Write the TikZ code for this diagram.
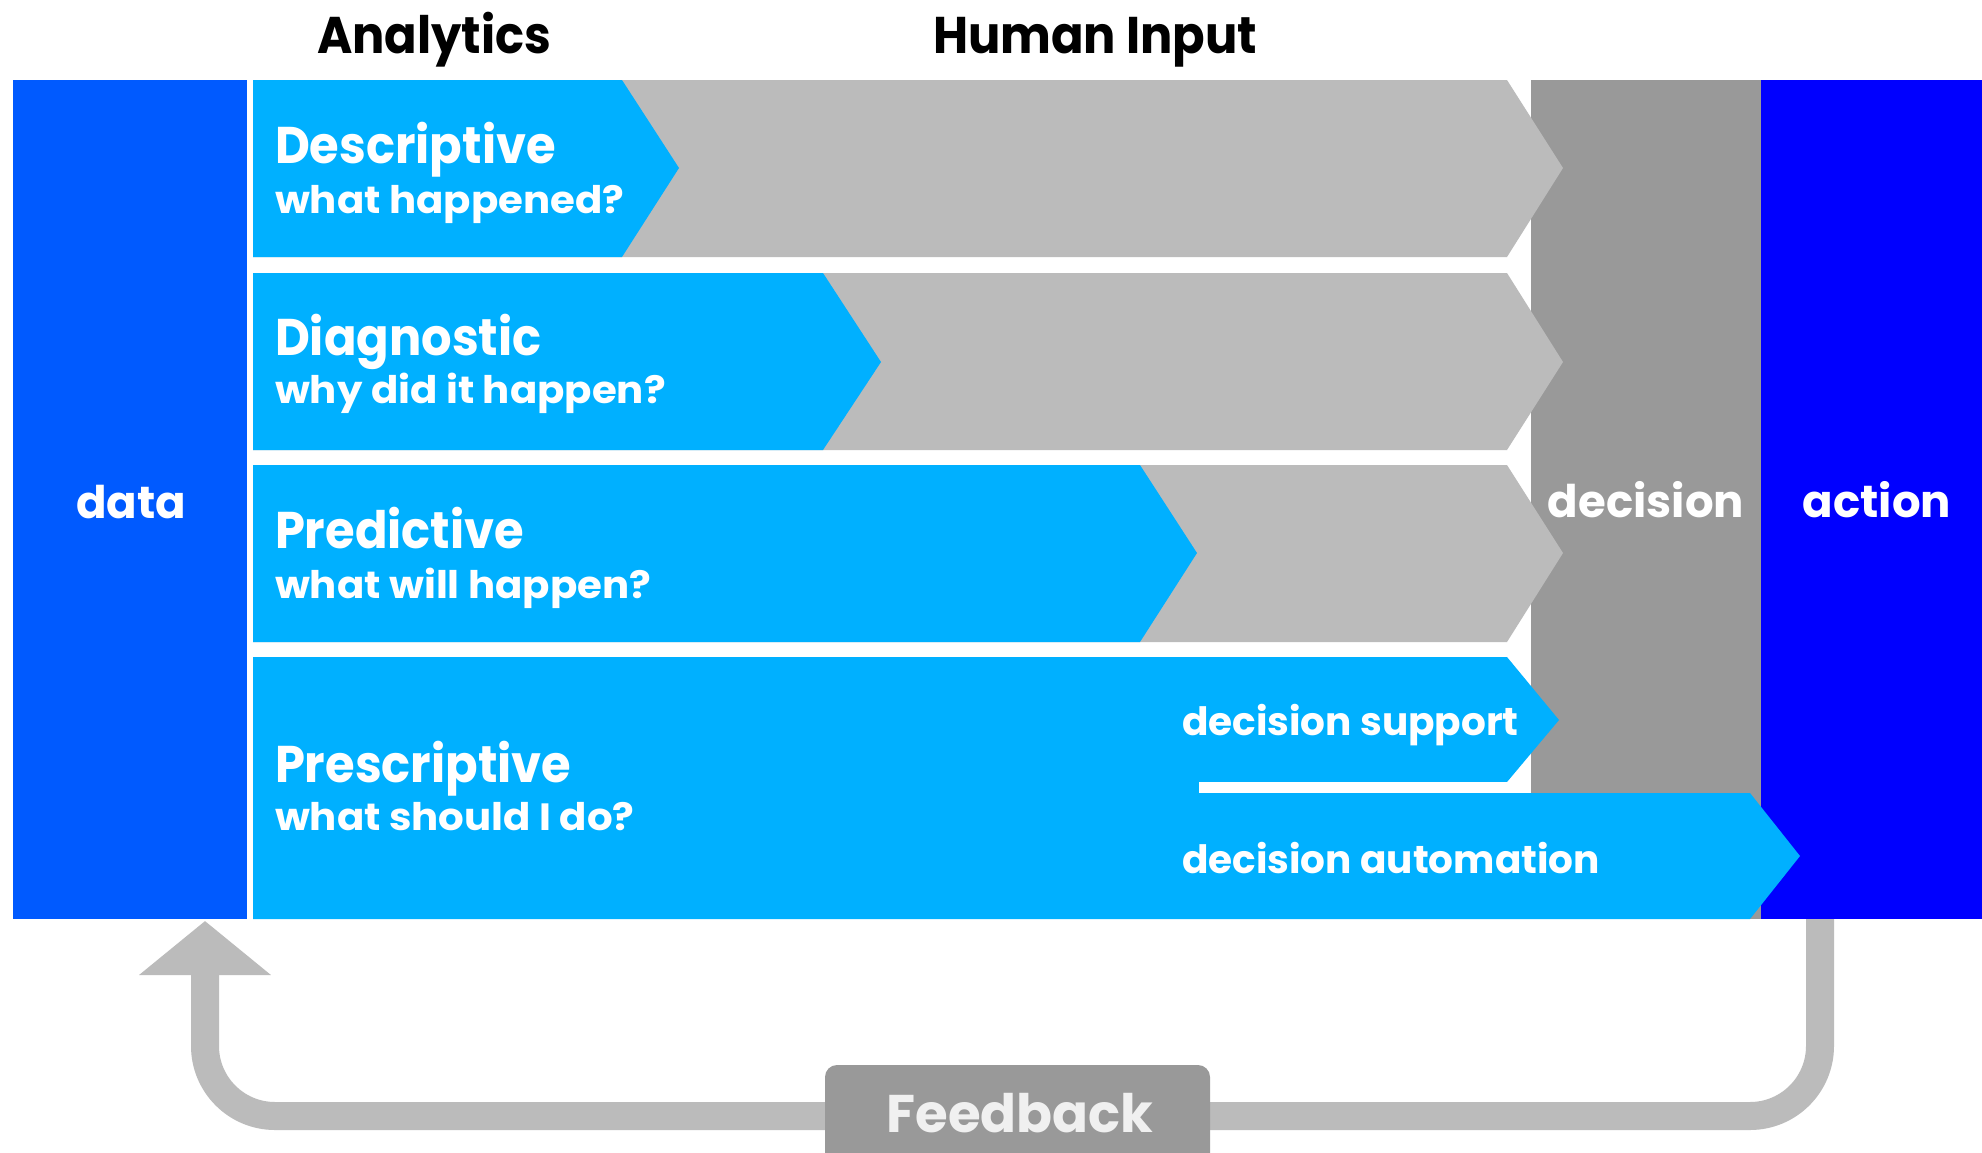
\documentclass[tikz,border=0pt]{standalone}
\usepackage{fontspec}
\setmainfont{Poppins}
\newfontfamily\ttlfont[FakeStretch=0.93]{Poppins}
\newfontfamily\subfont[FakeStretch=1.06]{Poppins}
\usetikzlibrary{arrows.meta}
\definecolor{datablue}{HTML}{005AFF}
\definecolor{bandblue}{HTML}{00B0FF}
\definecolor{lgray}{HTML}{BBBBBB}
\definecolor{dgray}{HTML}{999999}
\definecolor{actblue}{HTML}{0000FF}
\begin{document}
\begin{tikzpicture}[x=1pt,y=-1pt,
  every node/.style={inner sep=0pt, outer sep=0pt},
  colbox/.style={draw=none, minimum width=#1, anchor=north west},
  hdr/.style={font=\ttlfont\bfseries\fontsize{51.6}{56}\selectfont, text=black, anchor=base west},
  ttl/.style={font=\ttlfont\bfseries\fontsize{51.6}{56}\selectfont, text=white, anchor=base west},
  sub/.style={font=\subfont\bfseries\fontsize{38}{42}\selectfont, text=white, anchor=base west},
  big/.style={font=\bfseries\fontsize{45}{50}\selectfont, text=white, anchor=base},
  dec/.style={font=\bfseries\fontsize{39}{44}\selectfont, text=white, anchor=base west},
  fbline/.style={draw=lgray, line width=28pt, rounded corners=70pt, -{Triangle[length=54pt,width=129pt]}},
  fbbox/.style={fill=dgray, rounded corners=12pt, minimum width=385pt, minimum height=100pt}]
\useasboundingbox[fill=white] (0,0) rectangle (1982,1152);

% columns
\node[colbox=234pt, minimum height=839pt, fill=datablue] (data) at (13,80) {};
\node[colbox=230pt, minimum height=839pt, fill=dgray] (decision) at (1531,80) {};
\node[colbox=221pt, minimum height=839pt, fill=actblue] (action) at (1761,80) {};

% band 1
\fill[lgray] (253,80) -- (1507,80) -- (1563,168) -- (1507,257) -- (253,257) -- cycle;
\fill[bandblue] (253,80) -- (622,80) -- (679,168) -- (622,257) -- (253,257) -- cycle;
% band 2
\fill[lgray] (253,273) -- (1507,273) -- (1563,362) -- (1507,450) -- (253,450) -- cycle;
\fill[bandblue] (253,273) -- (823,273) -- (881,362) -- (823,450) -- (253,450) -- cycle;
% band 3
\fill[lgray] (253,465) -- (1507,465) -- (1563,553) -- (1507,642) -- (253,642) -- cycle;
\fill[bandblue] (253,465) -- (1140,465) -- (1197,553) -- (1140,642) -- (253,642) -- cycle;
% band 4
\fill[bandblue] (253,657) -- (1507,657) -- (1559,720) -- (1507,782) -- (1199,782)
  -- (1199,793) -- (1750,793) -- (1800,856) -- (1750,919) -- (253,919) -- cycle;
\fill[white] (1199,782) rectangle (1531,793);

% headers
\node[hdr] (hA) at (317,53) {Analytics};
\node[hdr] (hH) at (933,53) {Human Input};

% band texts
\node[ttl] (t1) at (275,163) {Descriptive};
\node[sub] (s1) at (275,213) {what happened?};
\node[ttl] (t2) at (275,355) {Diagnostic};
\node[sub] (s2) at (275,403) {why did it happen?};
\node[ttl] (t3) at (275,548) {Predictive};
\node[sub] (s3) at (275,598) {what will happen?};
\node[ttl] (t4) at (275,782) {Prescriptive};
\node[sub] (s4) at (275,830) {what should I do?};
\node[dec] (ds) at (1182,735) {decision support};
\node[dec] (da) at (1182,873) {decision automation};

% column labels
\node[big] (dataL) at (131,518) {data};
\node[big] (decL) at (1646,517) {decision};
\node[big] (actL) at (1877,517) {action};

% feedback loop
\coordinate (fbs) at (1820,919);
\coordinate (fbe) at (205,921);
\draw[fbline] (fbs) -- (1820,1116) -- (205,1116) -- (fbe);
\node[fbbox] (fb) at (1017.5,1115) {};
\node[font=\bfseries\fontsize{53}{58}\selectfont, text=white!94!black, anchor=base] (fbL) at (1020,1132) {Feedback};
\end{tikzpicture}
\end{document}
